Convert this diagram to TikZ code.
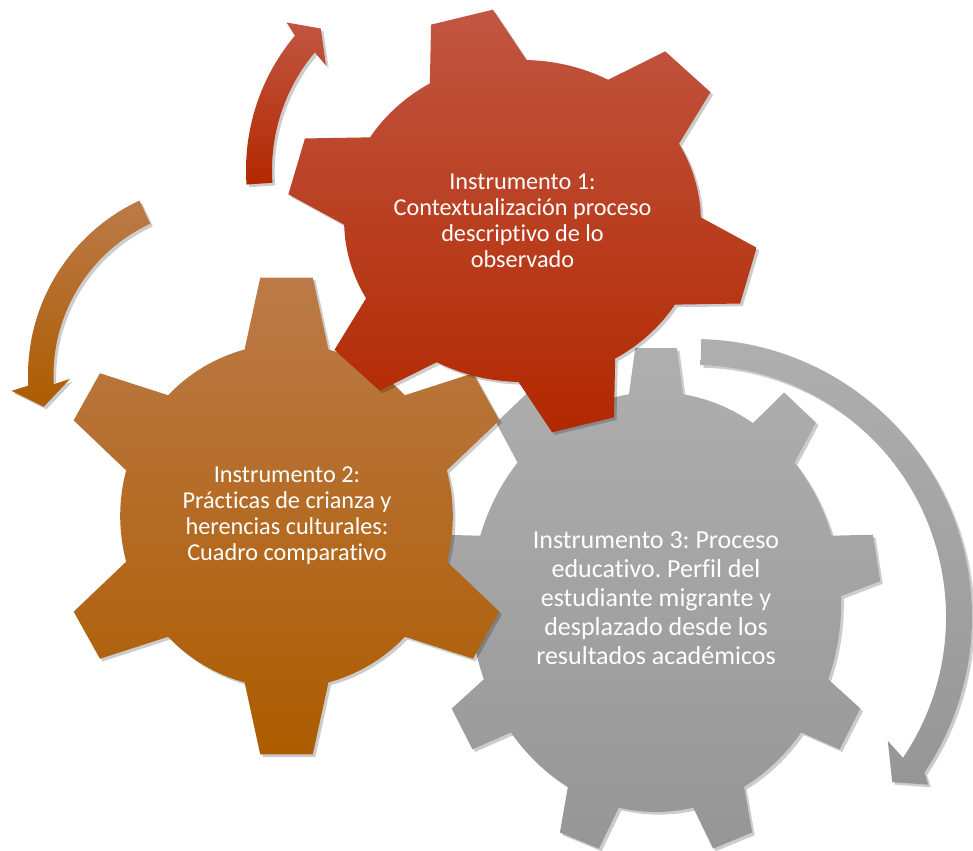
\documentclass[tikz,border=0pt]{standalone}
\usepackage{fontspec}
\setmainfont{Carlito}[Ligatures={CommonOff}]
\usetikzlibrary{shadows}
\frenchspacing
\definecolor{redtop}{RGB}{193,86,66}
\definecolor{redbot}{RGB}{178,40,0}
\definecolor{orangetop}{RGB}{187,122,72}
\definecolor{orangebot}{RGB}{173,92,0}
\definecolor{graytop}{RGB}{175,175,175}
\definecolor{graybot}{RGB}{150,150,150}
\begin{document}
\begin{tikzpicture}[x=.02cm, y=.02cm,
    shadowed/.style={drop shadow={shadow xshift=1.5pt, shadow yshift=-1.5pt, opacity=.2, fill=black}},
    redpart/.style={shadowed, top color=redtop, bottom color=redbot},
    orangepart/.style={shadowed, top color=orangetop, bottom color=orangebot},
    graypart/.style={shadowed, top color=graytop, bottom color=graybot},
    geartext/.style={text=white, align=center, font=\fontsize{13.8}{14.8}\selectfont}]
\useasboundingbox (0,0) rectangle (973,851);

% gear 3, gray, 9 teeth
\path[graypart, shift={(656,249)}, xscale=.882]
  ({90-8.4}:210) \foreach \a in {90,130,...,410}
  {-- ({\a-5.3}:255) -- ({\a+5.3}:255) -- ({\a+8.4}:210)
   arc[start angle=\a+8.4, end angle=\a+31.6, radius=210]} -- cycle;
\node[geartext, font=\fontsize{14.8}{16.5}\selectfont] (instr3) at (656,253)
  {Instrumento 3: Proceso\\ educativo. Perfil del\\ estudiante migrante y\\ desplazado desde los\\ resultados académicos};

% gear 2, orange, 6 teeth
\path[orangepart, shift={(286.5,335)}, xscale=.967]
  ({90-14.6}:172) \foreach \a in {90,150,...,390}
  {-- ({\a-6.5}:240) -- ({\a+6.5}:240) -- ({\a+14.6}:172)
   arc[start angle=\a+14.6, end angle=\a+45.4, radius=172]} -- cycle;
\node[geartext] (instr2) at (287,335)
  {Instrumento 2:\\ Prácticas de crianza y\\ herencias culturales:\\ Cuadro comparativo};

% gear 1, red, 6 teeth
\path[redpart, shift={(522.5,630)}, xscale=1.108]
  ({105-16.3}:161) \foreach \a in {105,165,...,405}
  {-- ({\a-7.8}:213) -- ({\a+7.8}:213) -- ({\a+16.3}:161)
   arc[start angle=\a+16.3, end angle=\a+43.7, radius=161]} -- cycle;
\node[geartext] (instr1) at (522.5,630)
  {Instrumento 1:\\ Contextualización proceso\\ descriptivo de lo\\ observado};

% circular arrows
\path[redpart, shift={(455,681)}]
  (184:209) arc[start angle=184, end angle=140, radius=209]
  -- (138.8:224) -- (133.5:195) -- (141:166) -- (140:183)
  arc[start angle=140, end angle=184, radius=183] -- cycle;
\path[orangepart, shift={(221,475.5)}]
  (115:193) arc[start angle=115, end angle=183, radius=193]
  -- (184.2:210) -- (190:180) -- (181.3:151) -- (183:167.5)
  arc[start angle=183, end angle=115, radius=167.5] -- cycle;
\path[graypart, shift={(694,234)}]
  (88.5:278) arc[start angle=88.5, end angle=-34, radius=278]
  -- (-35.6:288) -- (-39.8:258) -- (-32.6:230) -- (-34:252)
  arc[start angle=-34, end angle=88.5, radius=252] -- cycle;
\end{tikzpicture}
\end{document}
